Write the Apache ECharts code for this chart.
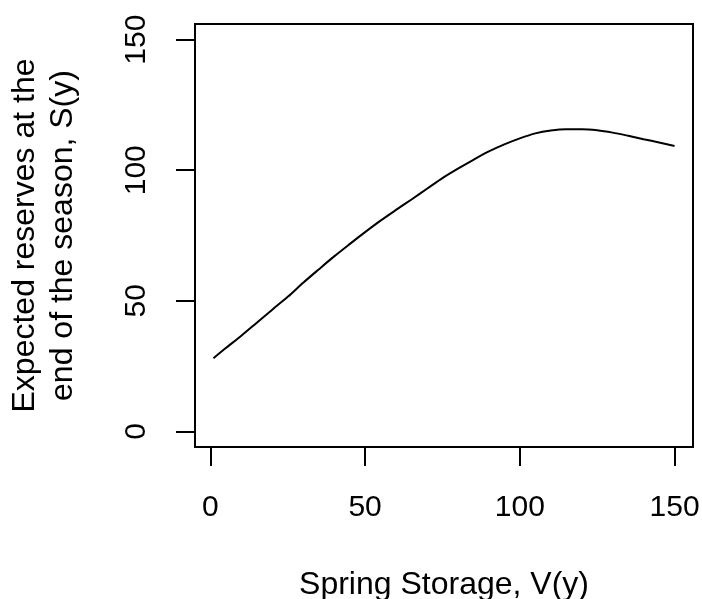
<!DOCTYPE html>
<html>
<head>
<meta charset="utf-8">
<script src="https://cdn.jsdelivr.net/npm/echarts@6/dist/echarts.min.js"></script>
<style>
  html, body { margin: 0; padding: 0; background: #fff; }
  #chart { width: 702px; height: 599px; }
</style>
</head>
<body>
<div id="chart"></div>
<script>
const springStorage = [1, 5, 10, 15, 20, 25, 30, 35, 40, 45, 50, 55, 60, 65, 70, 75,
  80, 85, 90, 95, 100, 105, 110, 115, 120, 125, 130, 135, 140, 145, 150];
const expectedReserves = [28.0, 31.9, 36.6, 41.6, 46.6, 51.5, 56.9, 62.0, 67.0, 71.7, 76.3,
  80.7, 84.8, 88.8, 92.9, 97.0, 100.6, 104.0, 107.2, 109.9, 112.2, 114.1, 115.2,
  115.7, 115.7, 115.3, 114.4, 113.2, 111.9, 110.6, 109.3];
const xTicks = [0, 50, 100, 150];
const yTicks = [0, 50, 100, 150];

const font = "'Liberation Sans', Arial, sans-serif";
const chart = echarts.init(document.getElementById('chart'));

const option = {
  animation: false,
  backgroundColor: '#fff',
  grid: {
    left: 195, top: 24, width: 498, height: 423,
    outerBoundsMode: 'none',
    containLabel: false,
    show: true, borderColor: '#000', borderWidth: 2, backgroundColor: 'transparent'
  },
  xAxis: {
    type: 'value',
    min: -4.96, max: 155.96,
    name: 'Spring Storage, V(y)',
    nameLocation: 'middle',
    nameGap: 122,
    nameTextStyle: { fontSize: 32, color: '#000', fontFamily: font },
    axisLine: { show: false, onZero: false },
    axisTick: { show: true, inside: false, customValues: xTicks, length: 19, lineStyle: { color: '#000', width: 2 } },
    axisLabel: { customValues: xTicks, fontSize: 30, color: '#000', fontFamily: font, margin: 46 },
    splitLine: { show: false }
  },
  yAxis: {
    type: 'value',
    min: -6, max: 156,
    name: 'Expected reserves at the\nend of the season, S(y)',
    nameLocation: 'middle',
    nameRotate: 90,
    nameGap: 113,
    nameTextStyle: { fontSize: 32, color: '#000', fontFamily: font, lineHeight: 38 },
    axisLine: { show: false, onZero: false },
    axisTick: { show: true, inside: false, customValues: yTicks, length: 19, lineStyle: { color: '#000', width: 2 } },
    axisLabel: { customValues: yTicks, rotate: 90, fontSize: 30, color: '#000', fontFamily: font, margin: 43 },
    splitLine: { show: false }
  },
  series: [{
    type: 'line',
    data: springStorage.map((v, i) => [v, expectedReserves[i]]),
    showSymbol: false,
    smooth: 0.3,
    lineStyle: { color: '#000', width: 2 }
  }]
};

chart.setOption(option);
window.addEventListener('resize', function () {
  chart.resize();
});
</script>
</body>
</html>
